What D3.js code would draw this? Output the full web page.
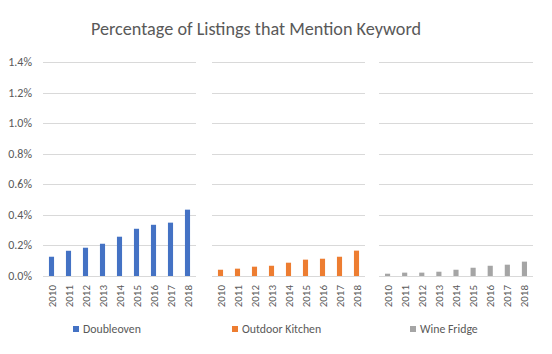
<!DOCTYPE html>
<html>
<head>
<meta charset="utf-8">
<script src="https://cdn.jsdelivr.net/npm/d3@7"></script>
<style>
  body { margin: 0; background: #fff; }
  text { font-family: Calibri, Carlito, "Open Sans", sans-serif; fill: #595959; }
</style>
</head>
<body>
<svg id="chart"></svg>
<script>
const years = ['2010', '2011', '2012', '2013', '2014', '2015', '2016', '2017', '2018']
const seriesNames = ['Doubleoven', 'Outdoor Kitchen', 'Wine Fridge']
const doubleoven = [0.126, 0.165, 0.185, 0.211, 0.257, 0.309, 0.335, 0.349, 0.434]
const outdoorKitchen = [0.041, 0.048, 0.061, 0.067, 0.087, 0.107, 0.113, 0.126, 0.166]
const wineFridge = [0.015, 0.022, 0.022, 0.028, 0.041, 0.054, 0.067, 0.074, 0.094]
const yTicks = [0, 0.2, 0.4, 0.6, 0.8, 1.0, 1.2, 1.4]
const colors = ['#4472C4', '#ED7D31', '#A5A5A5']

const series = [doubleoven, outdoorKitchen, wineFridge]

const width = 552
const height = 354

const svg = d3.select('#chart')
    .attr('width', width)
    .attr('height', height)

svg.append('text')
    .attr('x', 256)
    .attr('y', 35)
    .style('text-anchor', 'middle')
    .style('font-size', '18.2px')
    .text('Percentage of Listings that Mention Keyword')

const yScale = d3.scaleLinear()
    .domain([0, 1.4])
    .range([276, 62])

// y labels on the left only
svg.selectAll('.ylabel')
    .data(yTicks)
    .enter()
    .append('text')
    .attr('class', 'ylabel')
    .attr('x', 32)
    .attr('y', d => yScale(d) + 4)
    .style('text-anchor', 'end')
    .style('font-size', '12px')
    .text(d => d.toFixed(1) + '%')

const panels = [[43, 196], [212, 365], [379, 533]]
const legendX = [73, 232, 410]

series.forEach((values, i) => {
    const [x0, x1] = panels[i]

    const xScale = d3.scaleBand()
        .domain(years)
        .range([x0, x1])
        .paddingInner(0.7)
        .paddingOuter(0.35)

    const g = svg.append('g')

    g.selectAll('line')
        .data(yTicks)
        .enter()
        .append('line')
        .attr('x1', x0)
        .attr('x2', x1)
        .attr('y1', d => Math.round(yScale(d)) + 0.5)
        .attr('y2', d => Math.round(yScale(d)) + 0.5)
        .attr('stroke', '#D9D9D9')
        .attr('stroke-width', 1)

    g.selectAll('rect')
        .data(values)
        .enter()
        .append('rect')
        .attr('x', (d, j) => xScale(years[j]))
        .attr('width', xScale.bandwidth())
        .attr('y', d => yScale(d))
        .attr('height', d => yScale(0) - yScale(d))
        .attr('fill', colors[i])

    g.selectAll('.xlabel')
        .data(years)
        .enter()
        .append('text')
        .attr('class', 'xlabel')
        .attr('transform', d => `translate(${xScale(d) + xScale.bandwidth() / 2 + 4}, 285) rotate(-90)`)
        .style('text-anchor', 'end')
        .style('font-size', '11px')
        .text(d => d)

    // legend
    const lx = legendX[i]
    g.append('rect')
        .attr('x', lx)
        .attr('y', 326)
        .attr('width', 6)
        .attr('height', 6)
        .attr('fill', colors[i])
    g.append('text')
        .attr('x', lx + 10)
        .attr('y', 333)
        .style('font-size', '11.8px')
        .text(seriesNames[i])
})
</script>
</body>
</html>
